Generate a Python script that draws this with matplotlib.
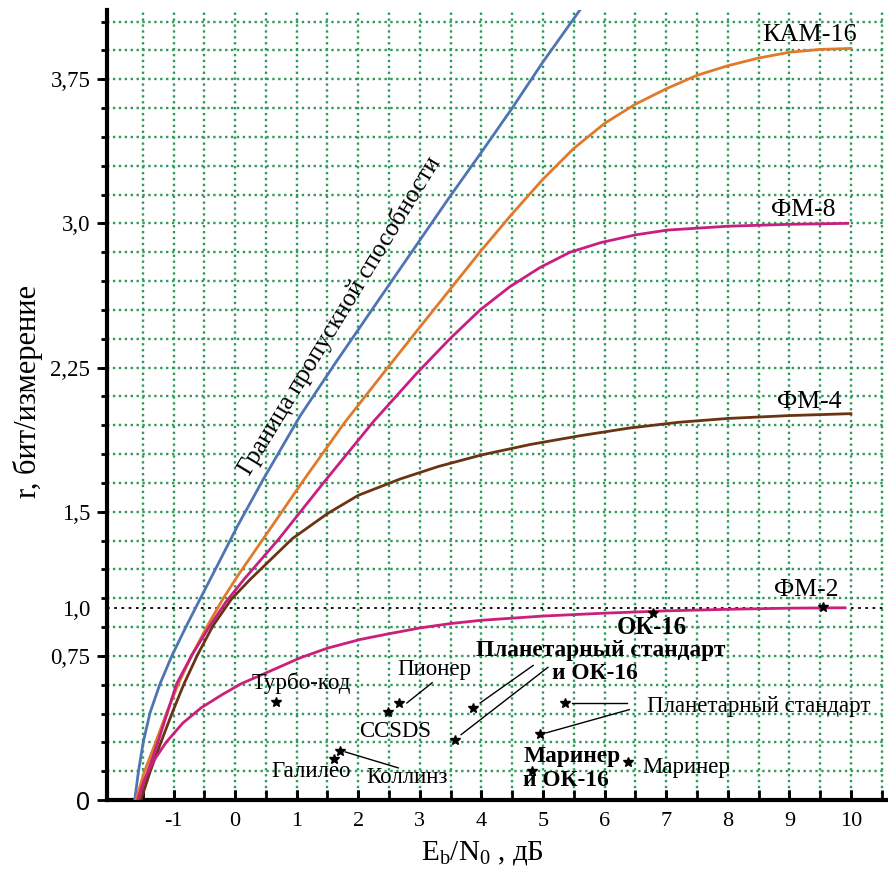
import numpy as np
import matplotlib
matplotlib.use('Agg')
import matplotlib.pyplot as plt
from matplotlib.ticker import FixedLocator

plt.rcParams['font.family'] = ['Liberation Serif', 'DejaVu Serif']
plt.rcParams['mathtext.fontset'] = 'custom'
plt.rcParams['mathtext.rm'] = 'Liberation Serif'
plt.rcParams['mathtext.it'] = 'Liberation Serif:italic'

# ---------------- data ----------------
cap_x = [-1.63, -1.57, -1.49, -1.38, -1.22, -1.02, -0.79, -0.53, -0.28, 0.03, 0.46, 1.06, 1.60, 2.50, 3.49, 4.00, 4.50, 5.00, 5.60]
cap_r = [0.00, 0.147, 0.304, 0.455, 0.604, 0.755, 0.906, 1.07, 1.225, 1.42, 1.67, 2.00, 2.26, 2.68, 3.14, 3.37, 3.60, 3.84, 4.11]

qam16_x = [-1.61, -1.47, -1.29, -1.11, -0.92, -0.70, -0.45, -0.20, 0.05, 0.46, 1.06, 1.77, 2.48, 3.00, 3.50, 4.00, 4.50, 5.00, 5.50, 6.00, 6.50, 7.00, 7.50, 8.00, 8.50, 9.00, 9.50, 10.00]
qam16_r = [0.00, 0.15, 0.30, 0.455, 0.605, 0.755, 0.906, 1.045, 1.17, 1.36, 1.64, 1.96, 2.25, 2.46, 2.66, 2.86, 3.05, 3.23, 3.39, 3.52, 3.62, 3.70, 3.77, 3.82, 3.86, 3.89, 3.905, 3.91]

psk8_x = [-1.58, -1.42, -1.25, -1.10, -0.95, -0.70, -0.41, -0.15, 0.15, 0.70, 1.46, 2.25, 2.95, 3.49, 3.98, 4.46, 4.95, 5.44, 5.94, 6.50, 7.02, 8.00, 9.00, 9.95]
psk8_r = [0.00, 0.147, 0.304, 0.455, 0.604, 0.755, 0.906, 1.03, 1.15, 1.354, 1.66, 1.97, 2.22, 2.40, 2.55, 2.67, 2.77, 2.85, 2.90, 2.94, 2.965, 2.985, 2.995, 3.00]

psk4_x = [-1.53, -1.38, -1.20, -1.02, -0.83, -0.61, -0.36, -0.06, 0.24, 0.93, 1.50, 2.00, 2.68, 3.30, 4.00, 4.80, 5.60, 6.40, 7.20, 8.00, 9.00, 10.00]
psk4_r = [0.00, 0.147, 0.304, 0.455, 0.604, 0.755, 0.906, 1.045, 1.146, 1.36, 1.49, 1.585, 1.67, 1.735, 1.795, 1.85, 1.895, 1.935, 1.965, 1.985, 2.00, 2.01]

psk2_x = [-1.58, -1.48, -1.33, -1.12, -0.85, -0.55, -0.20, 0.10, 0.60, 1.06, 1.50, 2.03, 2.50, 3.00, 3.50, 4.00, 5.00, 6.00, 7.00, 8.00, 9.00, 9.90]
psk2_r = [0.00, 0.10, 0.20, 0.30, 0.40, 0.48, 0.55, 0.605, 0.675, 0.74, 0.79, 0.835, 0.865, 0.895, 0.918, 0.935, 0.957, 0.972, 0.984, 0.992, 0.998, 1.00]

# coded systems (stars)
star_x = [0.67, 2.66, 2.48, 1.61, 1.70, 6.79, 3.86, 3.57, 5.36, 4.95, 4.82, 6.38, 9.55]
star_r = [0.51, 0.505, 0.46, 0.214, 0.255, 0.974, 0.48, 0.31, 0.505, 0.344, 0.15, 0.198, 1.005]

x_ticks = [-1, 0, 1, 2, 3, 4, 5, 6, 7, 8, 9, 10]
y_tick_vals = [0, 0.75, 1.0, 1.5, 2.25, 3.0, 3.75]
y_tick_labels = ['0', '0,75', '1,0', '1,5', '2,25', '3,0', '3,75']

# ---------------- figure ----------------
W, H = 888, 874
fig = plt.figure(figsize=(W / 100, H / 100), dpi=100)
ax = fig.add_axes([107 / W, 74 / H, 779 / W, 790 / H])
ax.set_xlim(-2.08, 10.57)
ax.set_ylim(0, 4.11)

grid_col = '#2f9a5a'
ax.xaxis.set_major_locator(FixedLocator(x_ticks))
ax.xaxis.set_minor_locator(FixedLocator(np.arange(-1.5, 10.51, 0.5)))
ax.xaxis.remove_overlapping_locs = False
ax.set_xticklabels([str(v) for v in x_ticks])
ax.yaxis.set_major_locator(FixedLocator(y_tick_vals))
ax.yaxis.set_minor_locator(FixedLocator(np.round(np.arange(0.15, 4.06, 0.15), 2)))
ax.yaxis.remove_overlapping_locs = False
ax.set_yticklabels(y_tick_labels)

ax.grid(False)
ax.grid(True, which='minor', color=grid_col, linestyle=(0, (1, 1.5)), linewidth=1.7)
ax.set_axisbelow(True)

ax.tick_params(axis='x', which='both', direction='in', length=7, width=2, pad=9, labelsize=16, top=False)
ax.tick_params(axis='y', which='major', direction='out', length=7, width=2, pad=5, labelsize=16.5)
ax.tick_params(axis='y', which='minor', direction='out', length=4, width=2)
for sp in ['top', 'right']:
    ax.spines[sp].set_visible(False)
for sp in ['left', 'bottom']:
    ax.spines[sp].set_linewidth(3)

for t in ax.yaxis.get_major_ticks():
    if abs(t.get_loc() - 1.0) < 1e-9:
        t.tick1line.set_visible(False)
for lab in ax.get_yticklabels():
    if lab.get_text() == '0':
        lab.set_family(['Liberation Sans', 'DejaVu Sans'])
        lab.set_fontsize(18)

# dotted line r = 1
ax.axhline(1.0, color='black', linestyle=(0, (1.5, 2.5)), linewidth=1.3, zorder=2)

# curves
ax.plot(cap_x, cap_r, color='#4f74b3', lw=2.0, zorder=3, solid_joinstyle='round')
ax.plot(qam16_x, qam16_r, color='#e07a2a', lw=2.0, zorder=3, solid_joinstyle='round')
ax.plot(psk8_x, psk8_r, color='#c81e82', lw=2.0, zorder=3, solid_joinstyle='round')
ax.plot(psk4_x, psk4_r, color='#6a3414', lw=2.0, zorder=3, solid_joinstyle='round')
ax.plot(psk2_x, psk2_r, color='#cc1f7a', lw=2.0, zorder=3, solid_joinstyle='round')

# stars
ax.plot(star_x, star_r, linestyle='none', marker='*', color='black', ms=7, zorder=4)

# leader lines
leaders = [
    ((2.79, 0.505), (3.20, 0.61)),
    ((1.79, 0.25), (2.65, 0.167)),
    ((3.98, 0.505), (4.84, 0.70)),
    ((3.67, 0.34), (5.08, 0.69)),
    ((5.47, 0.505), (6.36, 0.505)),
    ((5.06, 0.35), (6.40, 0.47)),
]
for (x1, y1), (x2, y2) in leaders:
    ax.plot([x1, x2], [y1, y2], color='black', lw=1.0, zorder=4)

fs = 16.5
fb = 16.8
ax.text(1.08, 0.61, 'Турбо-код', ha='center', va='center', fontsize=fs)
ax.text(3.23, 0.68, 'Пионер', ha='center', va='center', fontsize=fs)
ax.text(2.60, 0.355, 'CCSDS', ha='center', va='center', fontsize=fs)
ax.text(1.23, 0.146, 'Галилео', ha='center', va='center', fontsize=fs)
ax.text(2.79, 0.115, 'Коллинз', ha='center', va='center', fontsize=fs)
ax.text(6.77, 0.896, 'ОК-16', ha='center', va='center', fontsize=17.8, fontweight='bold')
ax.text(5.94, 0.78, 'Планетарный стандарт', ha='center', va='center', fontsize=fb, fontweight='bold')
ax.text(5.84, 0.66, 'и ОК-16', ha='center', va='center', fontsize=fb, fontweight='bold')
ax.text(8.50, 0.485, 'Планетарный стандарт', ha='center', va='center', fontsize=fs)
ax.text(4.68, 0.225, 'Маринер', ha='left', va='center', fontsize=fb, fontweight='bold')
ax.text(4.68, 0.104, 'и ОК-16', ha='left', va='center', fontsize=fb, fontweight='bold')
ax.text(6.61, 0.167, 'Маринер', ha='left', va='center', fontsize=fs)

# curve labels
ax.text(9.33, 3.98, 'КАМ-16', ha='center', va='center', fontsize=18.8)
ax.text(9.22, 3.07, 'ФМ-8', ha='center', va='center', fontsize=18.5)
ax.text(9.33, 2.07, 'ФМ-4', ha='center', va='center', fontsize=18.5)
ax.text(9.27, 1.09, 'ФМ-2', ha='center', va='center', fontsize=18.5)

ax.text(1.70, 2.52, 'Граница пропускной способности', ha='center', va='center',
        rotation=58.7, rotation_mode='anchor', fontsize=18.3)

# axis labels
fig.text(28 / W, 1 - 392 / H, 'r, бит/измерение', rotation=90, ha='center', va='center', fontsize=22)
fig.text(482 / W, 1 - 853 / H, r'E$_\mathrm{b}$/N$_\mathrm{0}$ , дБ', ha='center', va='center', fontsize=21)

fig.savefig('out.png', dpi=100)
